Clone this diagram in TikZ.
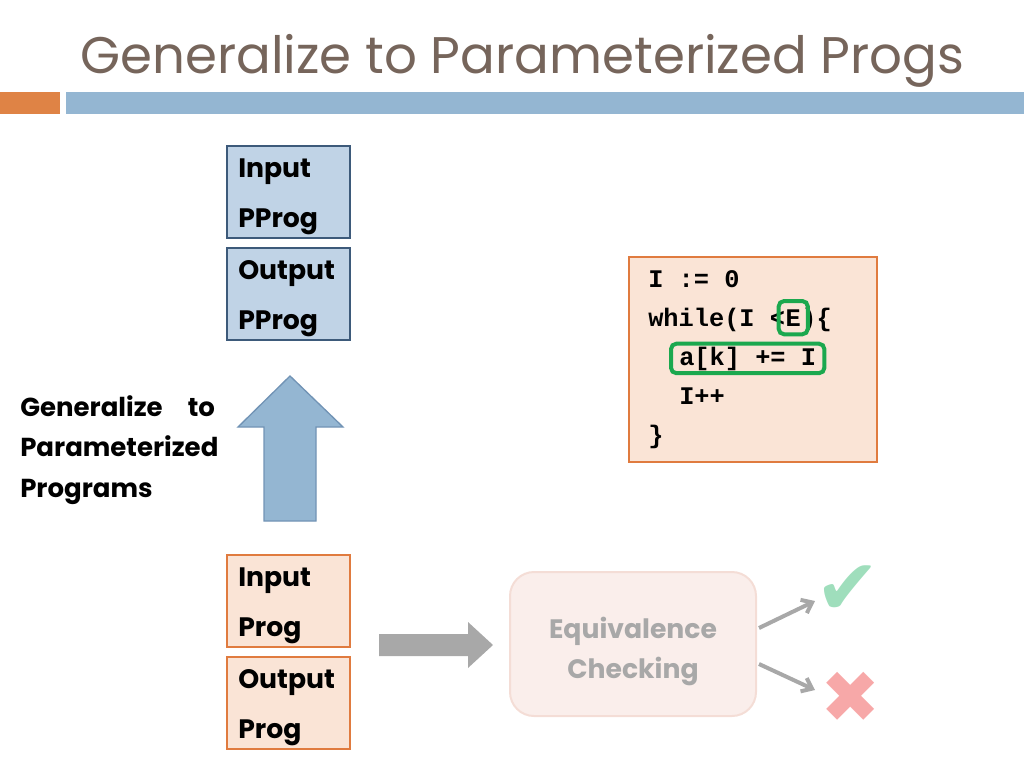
\documentclass[tikz,border=0pt]{standalone}
\usepackage{fontspec}
\setmainfont{Poppins}
\setmonofont{Liberation Mono}
\newfontfamily\symfont{DejaVu Sans}
\usetikzlibrary{positioning,fit,arrows.meta,calc}

\definecolor{titlebrown}{HTML}{76655B}
\definecolor{barorange}{HTML}{DF8345}
\definecolor{barblue}{HTML}{94B6D2}
\definecolor{pboxfill}{HTML}{C0D3E6}
\definecolor{pboxline}{HTML}{3D5A7A}
\definecolor{peach}{HTML}{FAE4D6}
\definecolor{peachline}{HTML}{E07B3F}
\definecolor{arrowline}{HTML}{7193B5}
\definecolor{flowgray}{HTML}{A8A8A8}
\definecolor{eqfill}{HTML}{FAEEEB}
\definecolor{eqline}{HTML}{F4DDD6}
\definecolor{codegreen}{HTML}{1BA84E}
\definecolor{okgreen}{HTML}{9FDEBC}
\definecolor{badred}{HTML}{F7A8A8}

\tikzset{
  progbox/.style={draw, line width=1.5pt, anchor=north west, inner sep=0pt,
    minimum width=92.25pt, minimum height=69pt},
  pprog/.style={progbox, fill=pboxfill, draw=pboxline},
  cprog/.style={progbox, fill=peach, draw=peachline},
  boxtext/.style={anchor=base west, inner sep=0pt, align=left,
    font=\bfseries\fontsize{20}{37}\selectfont},
  codeline/.style={anchor=base west, inner sep=0pt, font=\ttfamily\bfseries\fontsize{19}{19}\selectfont},
  hilite/.style={draw=codegreen, line width=3pt, rounded corners=4pt},
}

\begin{document}
\begin{tikzpicture}[x=0.75pt, y=-0.75pt]
\useasboundingbox (0,0) rectangle (1024,768);

% title and bars
\node[anchor=base west, inner sep=0pt, text=titlebrown, font=\fontsize{38.6}{38.6}\selectfont] (title) at (80,73) {Generalize to Parameterized Progs};
\fill[barorange] (0,92) rectangle (60,114);
\fill[barblue] (66,92) rectangle (1024,114);

% parameterized programs
\node[pprog] (inpp) at (226,145) {};
\node[boxtext] (inpptxt) at ($(inpp.north west)+(12,82)$) {Input\\PProg};
\node[pprog] (outpp) at (226,247) {};
\node[boxtext] (outpptxt) at ($(outpp.north west)+(12,82)$) {Output\\PProg};

% generalize arrow
\draw[fill=barblue, draw=arrowline, line width=1pt]
  (264,521) -- (264,427) -- (238,427) -- (290,376) -- (343,427) -- (316,427) -- (316,521) -- cycle;
\node[anchor=base west, inner sep=0pt, text width=146pt, align=left,
  font=\bfseries\fontsize{19.5}{30.5}\selectfont] (genlabel) at (20,416)
  {Generalize\hfill to\\Parameterized\\Programs};

% concrete programs
\node[cprog] (inp) at (226,554) {};
\node[boxtext] (inptxt) at ($(inp.north west)+(12,82)$) {Input\\Prog};
\node[cprog] (outp) at (226,656) {};
\node[boxtext] (outptxt) at ($(outp.north west)+(12,82)$) {Output\\Prog};

% flow arrow
\fill[flowgray] (379,634) -- (468,634) -- (468,622) -- (493,645) -- (468,668) -- (468,656) -- (379,656) -- cycle;

% equivalence checking
\node[draw=eqline, fill=eqfill, line width=1.5pt, rounded corners=18pt, anchor=north west,
  minimum width=184.5pt, minimum height=108pt] (eq) at (509,571) {};
\node[align=center, text=flowgray, inner sep=0pt,
  font=\bfseries\fontsize{20}{30}\selectfont] (eqtxt) at ($(eq.center)+(0,7)$) {Equivalence\\Checking};
\node[text=okgreen, inner sep=0pt, font=\symfont\fontsize{58}{58}\selectfont] (chk) at (848,590) {✔};
\node[text=badred, inner sep=0pt, font=\symfont\fontsize{54}{54}\selectfont] (crs) at (851,697) {✖};
\draw[flowgray, line width=3pt, -{Straight Barb[length=7pt, width=11pt]}] ($(eq.east)+(2,-16)$) -- (815,601);
\draw[flowgray, line width=3pt, -{Straight Barb[length=7pt, width=11pt]}] ($(eq.east)+(2,20)$) -- (815,690);

% code
\node[draw=peachline, fill=peach, line width=1.5pt, anchor=north west,
  minimum width=186pt, minimum height=153.75pt] (code) at (628,256) {};
\node[codeline] (l1) at (648,287) {I := 0};
\node[codeline] (l2) at (648,326) {while(I <};
\node[codeline, base right=0pt of l2] (le) {E};
\node[codeline, base right=0pt of le] (l2b) {)\{};
\node[codeline] (l3) at (679,365) {a[k] += I};
\node[codeline] (l4) at (679,404) {I++};
\node[codeline] (l5) at (648,443) {\}};
\node[hilite, fit=(le), inner xsep=5pt, inner ysep=6pt] (ebox) {};
\node[hilite, fit=(l3), inner xsep=6pt, inner ysep=2pt] (abox) {};
\end{tikzpicture}
\end{document}
